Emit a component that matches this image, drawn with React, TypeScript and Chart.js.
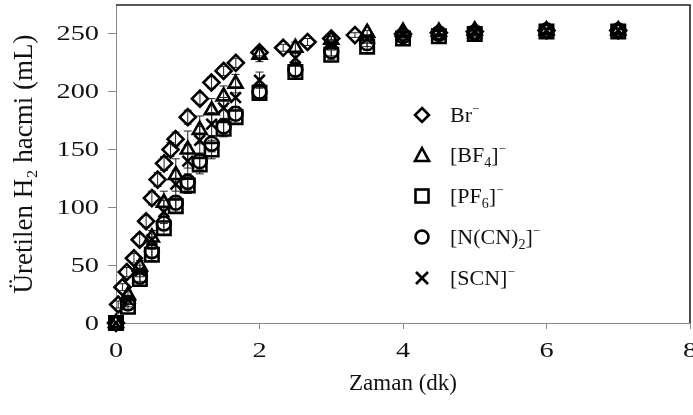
import React, { useEffect, useRef } from "react";
import { Chart, registerables } from "chart.js";

Chart.register(...registerables);

// ---- data ----
const xTickValues = [0, 2, 4, 6, 8];
const yTickValues = [0, 50, 100, 150, 200, 250];

const timeBr = [0, 0.03, 0.09, 0.15, 0.25, 0.33, 0.42, 0.5, 0.58, 0.67, 0.76, 0.83, 1.0, 1.17, 1.33, 1.5, 1.67, 2.0, 2.33, 2.67, 3.0, 3.33, 4.0, 4.5, 5.0, 6.0, 7.0];
const brValues = [0, 16, 31, 44, 56, 72, 88, 108, 124, 138, 150, 159, 178, 194, 208, 218, 225, 234, 238, 243, 246, 249, 250, 251, 252, 253, 253];
const brErr = [0, 3, 3, 4, 4, 5, 5, 6, 6, 6, 6, 6, 6, 5, 5, 4, 4, 3, 3, 3, 2, 2, 2, 2, 2, 2, 2];

const timeOther = [0, 0.167, 0.333, 0.5, 0.667, 0.833, 1.0, 1.167, 1.333, 1.5, 1.667, 2, 2.5, 3, 3.5, 4, 4.5, 5, 6, 7];
const bf4Values = [0, 24, 49, 74, 104, 128, 150, 167, 184, 196, 207, 232, 238, 245, 251, 252, 252, 253, 253, 253];
const bf4Err = [0, 4, 5, 6, 10, 14, 16, 12, 10, 9, 8, 6, 5, 3, 2, 2, 2, 2, 2, 2];
const pf6Values = [0, 14, 38, 59, 82, 101, 119, 137, 150, 168, 178, 199, 217, 232, 239, 246, 248, 250, 252, 252];
const pf6Err = [0, 3, 4, 5, 6, 6, 7, 8, 8, 7, 6, 5, 6, 4, 3, 3, 2, 2, 2, 2];
const ncnValues = [0, 17, 40, 62, 86, 104, 122, 140, 155, 170, 181, 200, 219, 235, 242, 248, 250, 251, 253, 253];
const ncnErr = [0, 3, 4, 5, 6, 6, 7, 7, 7, 6, 6, 5, 5, 4, 3, 3, 2, 2, 2, 2];
const scnValues = [0, 20, 45, 72, 96, 120, 140, 158, 172, 186, 195, 210, 229, 241, 246, 249, 251, 252, 253, 253];
const scnErr = [0, 4, 5, 8, 10, 12, 14, 12, 10, 9, 8, 7, 6, 4, 3, 2, 2, 2, 2, 2];

const FONT = "'Liberation Serif', 'Times New Roman', serif";
const TICK_FONT_SIZE = 21;
const TICK_STRETCH = 1.35;

type Series = { name: string; style: string; radius: number; t: number[]; v: number[]; e: number[] };

const seriesList: Series[] = [
  { name: "Br", style: "rectRot", radius: 8, t: timeBr, v: brValues, e: brErr },
  { name: "BF4", style: "triangle", radius: 8, t: timeOther, v: bf4Values, e: bf4Err },
  { name: "PF6", style: "rect", radius: 9.5, t: timeOther, v: pf6Values, e: pf6Err },
  { name: "NCN", style: "circle", radius: 7, t: timeOther, v: ncnValues, e: ncnErr },
  { name: "SCN", style: "crossRot", radius: 7.5, t: timeOther, v: scnValues, e: scnErr },
];

const errorBarPlugin = {
  id: "errorBars",
  beforeDatasetsDraw(chart: any) {
    const { ctx, scales } = chart;
    const xs = scales.x;
    const ys = scales.y;
    ctx.save();
    ctx.strokeStyle = "#222";
    ctx.lineWidth = 1;
    seriesList.forEach((s) => {
      s.t.forEach((t, i) => {
        const err = s.e[i];
        if (!err) return;
        const px = xs.getPixelForValue(t);
        const y1 = ys.getPixelForValue(s.v[i] + err);
        const y2 = ys.getPixelForValue(s.v[i] - err);
        ctx.beginPath();
        ctx.moveTo(px, y1);
        ctx.lineTo(px, y2);
        ctx.moveTo(px - 4, y1);
        ctx.lineTo(px + 4, y1);
        ctx.moveTo(px - 4, y2);
        ctx.lineTo(px + 4, y2);
        ctx.stroke();
      });
    });
    ctx.restore();
  },
};

// frame (top/right) + horizontally widened tick labels
const framePlugin = {
  id: "frame",
  afterDraw(chart: any) {
    const { ctx, chartArea, scales } = chart;
    ctx.save();
    ctx.strokeStyle = "#222";
    ctx.lineWidth = 1.6;
    ctx.beginPath();
    ctx.moveTo(chartArea.left, chartArea.top);
    ctx.lineTo(chartArea.right, chartArea.top);
    ctx.lineTo(chartArea.right, chartArea.bottom);
    ctx.stroke();

    ctx.fillStyle = "#111";
    ctx.font = `${TICK_FONT_SIZE}px ${FONT}`;
    ctx.textBaseline = "middle";
    const xs = scales.x;
    const ys = scales.y;
    ctx.textAlign = "center";
    xTickValues.forEach((v) => {
      ctx.save();
      ctx.translate(xs.getPixelForValue(v), chartArea.bottom + 28);
      ctx.scale(TICK_STRETCH, 1);
      ctx.fillText(String(v), 0, 0);
      ctx.restore();
    });
    ctx.textAlign = "right";
    yTickValues.forEach((v) => {
      ctx.save();
      ctx.translate(chartArea.left - 17, ys.getPixelForValue(v) + 1);
      ctx.scale(TICK_STRETCH, 1);
      ctx.fillText(String(v), 0, 0);
      ctx.restore();
    });
    ctx.restore();
  },
};

function Marker({ kind }: { kind: string }) {
  const common = { fill: "none", stroke: "#000", strokeWidth: 2.6 };
  let shape: any = null;
  if (kind === "rectRot") shape = <polygon points="10,3 17,10 10,17 3,10" {...common} />;
  if (kind === "triangle") shape = <polygon points="10,3 17,16 3,16" {...common} />;
  if (kind === "rect") shape = <rect x="3.5" y="3.5" width="13" height="13" {...common} />;
  if (kind === "circle") shape = <circle cx="10" cy="10" r="6.5" {...common} />;
  if (kind === "crossRot")
    shape = (
      <g {...common}>
        <line x1="4" y1="4" x2="16" y2="16" />
        <line x1="16" y1="4" x2="4" y2="16" />
      </g>
    );
  return (
    <svg width="20" height="20" style={{ display: "block" }}>
      {shape}
    </svg>
  );
}

const sub = (t: string) => (
  <span style={{ fontSize: 14, position: "relative", top: 5 }}>{t}</span>
);
const sup = () => (
  <span style={{ fontSize: 13, position: "relative", top: -9 }}>−</span>
);

const legendLabels = [
  <>Br{sup()}</>,
  <>[BF{sub("4")}]{sup()}</>,
  <>[PF{sub("6")}]{sup()}</>,
  <>[N(CN){sub("2")}]{sup()}</>,
  <>[SCN]{sup()}</>,
];
const legendRowY = [115, 155, 196, 237, 278];

export default function App() {
  const canvasRef = useRef<HTMLCanvasElement | null>(null);

  useEffect(() => {
    const canvas = canvasRef.current;
    if (!canvas) return;
    const chart = new Chart(canvas, {
      type: "scatter",
      data: {
        datasets: seriesList.map((s) => ({
          label: s.name,
          data: s.t.map((t, i) => ({ x: t, y: s.v[i] })),
          pointStyle: s.style as any,
          pointRadius: s.radius,
          pointBorderWidth: 2.6,
          borderColor: "#000",
          backgroundColor: "rgba(255,255,255,0)",
          showLine: false,
          clip: false as any,
        })),
      },
      options: {
        animation: false,
        responsive: true,
        maintainAspectRatio: false,
        layout: { autoPadding: false, padding: { left: 0, right: 3, top: 5, bottom: 0 } },
        plugins: { legend: { display: false }, tooltip: { enabled: false } },
        scales: {
          x: {
            type: "linear",
            min: 0,
            max: 8,
            afterBuildTicks: (scale: any) => {
              scale.ticks = xTickValues.map((v) => ({ value: v }));
            },
            afterFit: (scale: any) => {
              scale.height = 92;
              scale.paddingLeft = 0;
              scale.paddingRight = 0;
            },
            ticks: { display: false },
            grid: { drawOnChartArea: false, drawTicks: true, tickLength: 6, color: "#888" },
            border: { color: "#888", width: 1 },
            title: {
              display: true,
              text: "Zaman (dk)",
              font: { family: FONT, size: 23 },
              color: "#111",
              padding: { top: 4, bottom: 17 },
            },
          },
          y: {
            type: "linear",
            min: 0,
            max: 275,
            afterBuildTicks: (scale: any) => {
              scale.ticks = yTickValues.map((v) => ({ value: v }));
            },
            afterFit: (scale: any) => {
              scale.width = 116;
              scale.paddingTop = 0;
              scale.paddingBottom = 0;
            },
            ticks: { display: false },
            grid: { drawOnChartArea: false, drawTicks: true, tickLength: 8, color: "#888" },
            border: { color: "#888", width: 1 },
            title: {
              display: true,
              text: "Üretilen H₂ hacmi (mL)",
              font: { family: FONT, size: 27 },
              color: "#111",
              padding: { top: 9, bottom: 0 },
            },
          },
        },
      },
      plugins: [errorBarPlugin, framePlugin],
    });
    return () => chart.destroy();
  }, []);

  return (
    <div style={{ position: "fixed", left: 0, top: 0, width: 693, height: 415, background: "#fff" }}>
      <canvas ref={canvasRef} />
      {legendLabels.map((lab, i) => (
        <div
          key={i}
          style={{
            position: "absolute",
            left: 412,
            top: legendRowY[i] - 14,
            height: 28,
            display: "flex",
            alignItems: "center",
            fontFamily: FONT,
            fontSize: 22,
            color: "#111",
            whiteSpace: "nowrap",
          }}
        >
          <Marker kind={seriesList[i].style} />
          <span style={{ marginLeft: 18 }}>{lab}</span>
        </div>
      ))}
    </div>
  );
}
